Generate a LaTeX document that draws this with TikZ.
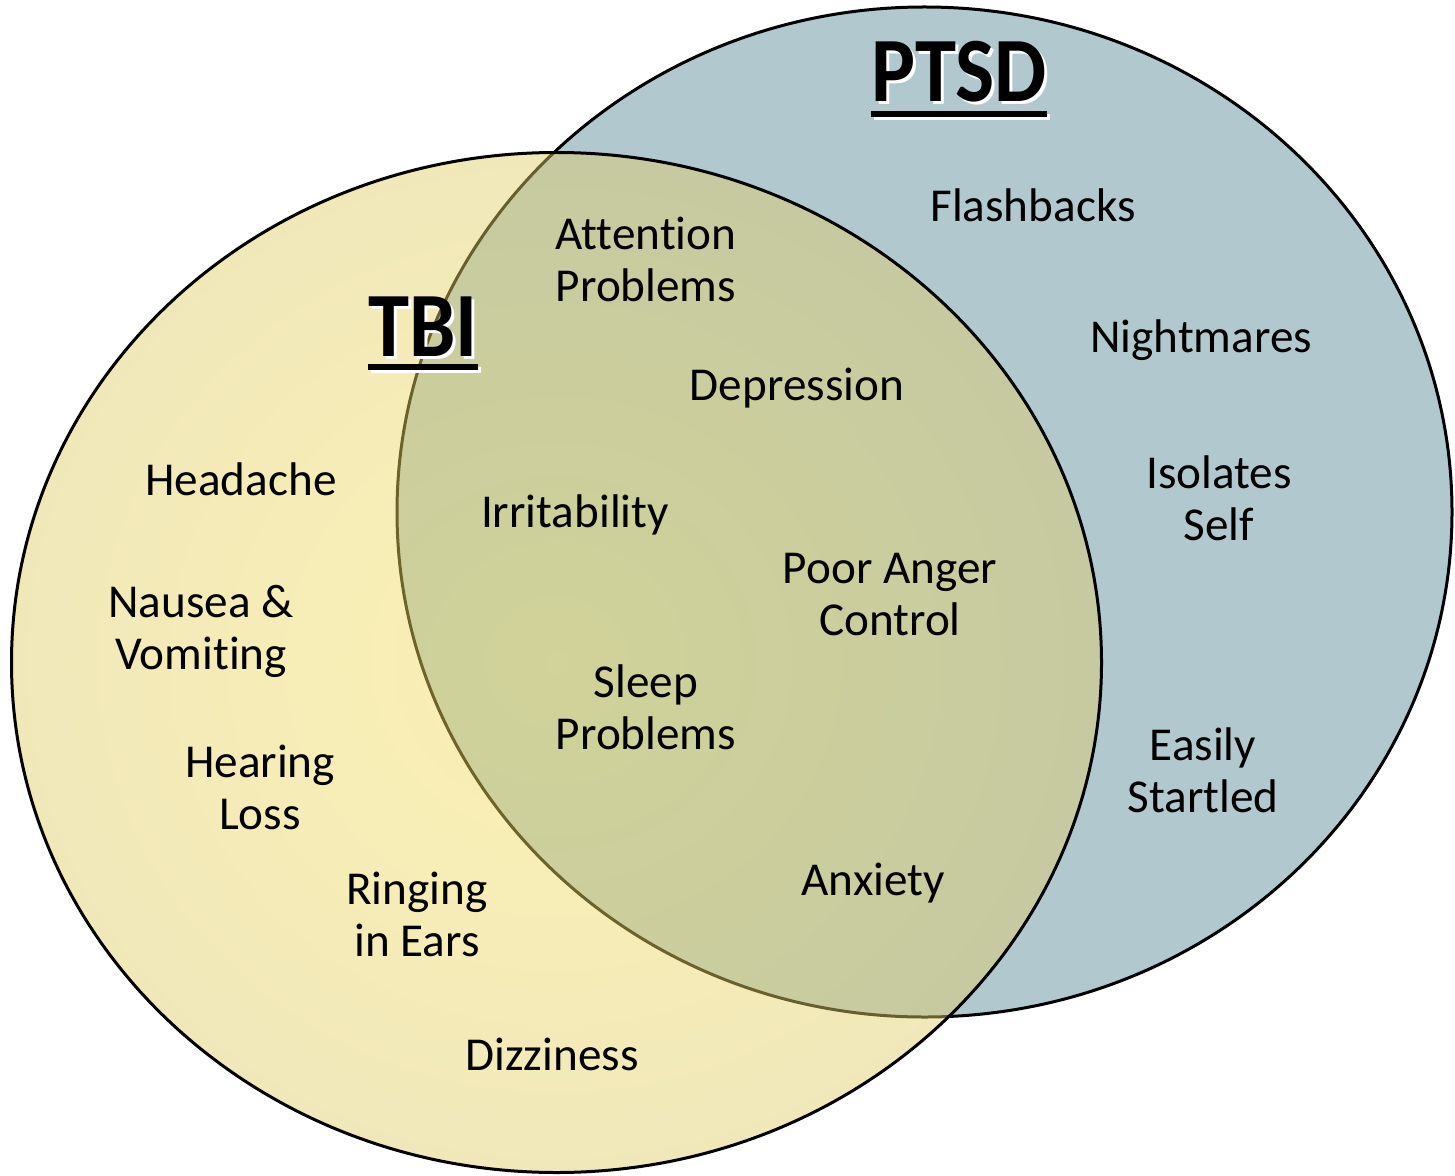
\documentclass[tikz,border=0pt]{standalone}
\usepackage{fontspec}
\setmainfont[Ligatures=NoCommon]{Carlito}
\definecolor{ptsdblue}{RGB}{178,200,207}
\definecolor{tbiin}{RGB}{246,224,90}
\definecolor{tbiout}{RGB}{224,205,105}
\begin{document}
\begin{tikzpicture}[x=0.5pt, y=-0.5pt,
	lbl/.style={align=center, inner sep=0pt, font=\fontsize{23.6}{26}\selectfont},
	head/.style={inner sep=0pt, font=\fontsize{46}{50}\selectfont\bfseries\addfontfeatures{FakeStretch=0.9}},
	headshadow/.style={head, text=white},
	uline/.style={line width=3pt}]

	\useasboundingbox (0,0) rectangle (1455,1176);

	% PTSD circle, then TBI on top
	\draw[line width=1.5pt, fill=ptsdblue] (924.5,512) ellipse [x radius=263.75pt, y radius=252.5pt];
	\shade[line width=1.5pt, draw=black, inner color=tbiin, outer color=tbiout, fill opacity=0.46] (556.5,662.5) ellipse [x radius=272.5pt, y radius=255pt];

	% headings
	\node[headshadow] (ptsdsh) at (962,75) {PTSD};
	\draw[uline, white] ([yshift=-6pt]ptsdsh.base west) -- ([yshift=-6pt]ptsdsh.base east);
	\node[head] (ptsd) at (959,72) {PTSD};
	\draw[uline] ([yshift=-6pt]ptsd.base west) -- ([yshift=-6pt]ptsd.base east);

	\node[headshadow] (tbish) at (426,330) {TBI};
	\draw[uline, white] ([yshift=-5pt]tbish.base west) -- ([yshift=-5pt]tbish.base east);
	\node[head] (tbi) at (423,327) {TBI};
	\draw[uline] ([yshift=-5pt]tbi.base west) -- ([yshift=-5pt]tbi.base east);

	% PTSD only
	\node[lbl] (flash) at (1033,205) {Flashbacks};
	\node[lbl] (night) at (1201,340) {Nightmares};
	\node[lbl] (isol) at (1219,498) {Isolates\\Self};
	\node[lbl] (start) at (1203,770) {Easily\\Startled};

	% both
	\node[lbl] (atten) at (646,259) {Attention\\Problems};
	\node[lbl] (depr) at (797,388) {Depression};
	\node[lbl] (irrit) at (575,515) {Irritability};
	\node[lbl] (anger) at (890,595) {Poor Anger\\Control};
	\node[lbl] (sleep) at (646,707) {Sleep\\Problems};
	\node[lbl] (anx) at (873,883) {Anxiety};

	% TBI only
	\node[lbl] (head) at (241,479) {Headache};
	\node[lbl] (naus) at (201,631) {Nausea \&\\Vomiting};
	\node[lbl] (hear) at (260,787) {Hearing\\Loss};
	\node[lbl] (ring) at (417,914) {Ringing\\in Ears};
	\node[lbl] (dizz) at (552,1054) {Dizziness};

\end{tikzpicture}
\end{document}
